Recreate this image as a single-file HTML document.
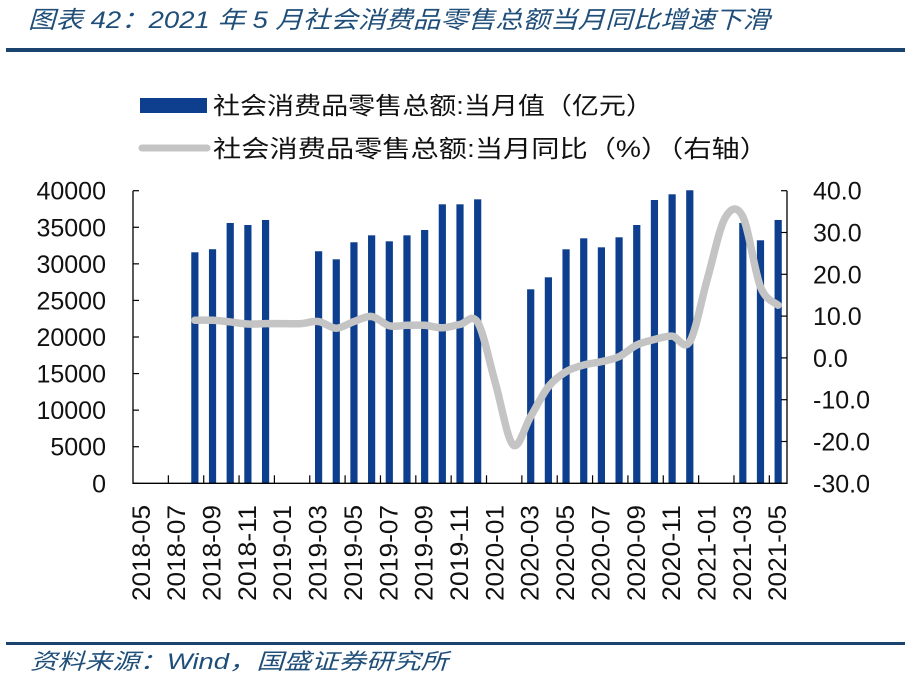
<!DOCTYPE html>
<html><head><meta charset="utf-8">
<style>
html,body{margin:0;padding:0;background:#fff;}
svg{display:block;}
</style></head>
<body>
<svg id="chart" width="905" height="680" viewBox="0 0 905 680" xmlns="http://www.w3.org/2000/svg">
  <text x="28" y="28" font-family="'Liberation Sans','Noto Sans CJK SC',sans-serif" font-size="24" font-style="italic" fill="#1f4e79" textLength="742" lengthAdjust="spacingAndGlyphs">图表 42：2021 年 5 月社会消费品零售总额当月同比增速下滑</text>
  <rect x="6" y="48" width="899" height="4" fill="#1a446e"/>
  <g>
    <rect x="140" y="98" width="67" height="15" fill="#0d3f8e"/>
    <text x="213" y="114" font-family="'Liberation Sans','Noto Sans CJK SC',sans-serif" font-size="24" fill="#111" textLength="440" lengthAdjust="spacingAndGlyphs">社会消费品零售总额:当月值（亿元）</text>
    <line x1="142" y1="148" x2="207" y2="148" stroke="#c4c4c4" stroke-width="7" stroke-linecap="round"/>
    <text x="213" y="157" font-family="'Liberation Sans','Noto Sans CJK SC',sans-serif" font-size="24" fill="#111" textLength="555" lengthAdjust="spacingAndGlyphs">社会消费品零售总额:当月同比（%）（右轴）</text>
  </g>
  <g id="plot"></g>
  <rect x="6" y="642" width="899" height="3" fill="#1a446e"/>
  <text x="30" y="669" font-family="'Liberation Sans','Noto Sans CJK SC',sans-serif" font-size="22" font-style="italic" fill="#1f4e79" textLength="418" lengthAdjust="spacingAndGlyphs">资料来源：Wind，国盛证券研究所</text>
</svg>
<script>
const months = ["2018-05","2018-06","2018-07","2018-08","2018-09","2018-10","2018-11","2018-12","2019-01","2019-02","2019-03","2019-04","2019-05","2019-06","2019-07","2019-08","2019-09","2019-10","2019-11","2019-12","2020-01","2020-02","2020-03","2020-04","2020-05","2020-06","2020-07","2020-08","2020-09","2020-10","2020-11","2020-12","2021-01","2021-02","2021-03","2021-04","2021-05"];
const salesValues = [null,null,null,31580,32000,35590,35310,36000,null,null,31720,30620,32950,33900,33080,33900,34630,38140,38140,38820,null,null,26520,28160,31990,33490,32260,33630,35310,38730,39510,40060,null,null,35590,33220,36000];
const yoyValues = [null,null,null,9.0,9.0,8.6,8.1,8.2,8.2,8.2,8.7,7.1,8.7,9.9,7.7,7.8,7.8,7.2,8.0,8.5,-6.0,-20.8,-14.0,-6.9,-3.3,-1.7,-0.9,0.3,3.1,4.4,5.2,3.9,19.0,33.5,33.8,17.0,12.6];
const leftTicks = [0,5000,10000,15000,20000,25000,30000,35000,40000];
const rightTicks = [-30,-20,-10,0,10,20,30,40];
const rightTickLabels = ["-30.0","-20.0","-10.0","0.0","10.0","20.0","30.0","40.0"];

const NS = "http://www.w3.org/2000/svg";
const X0 = 133, X1 = 787, Y0 = 483.3, Y1 = 190.7;
const step = (X1 - X0) / months.length;
const xC = i => X0 + step * (i + 0.5);
const yL = v => Y0 - (v / 40000) * (Y0 - Y1);
const yR = v => Y0 - ((v + 30) / 70) * (Y0 - Y1);
const plot = document.getElementById("plot");
function mk(tag, attrs) { const e = document.createElementNS(NS, tag); for (const k in attrs) e.setAttribute(k, attrs[k]); plot.appendChild(e); return e; }
const FONT = "'Liberation Sans',sans-serif";

salesValues.forEach((v, i) => {
  if (v === null) return;
  const r = mk("rect", {x: xC(i) - 3.6, y: yL(v), width: 7.2, height: Y0 - yL(v), fill: "#0d3f8e"});
  
  
});

const pts = [];
yoyValues.forEach((v, i) => { if (v !== null) pts.push([xC(i), yR(v)]); });
let d = "M" + pts[0][0] + "," + pts[0][1];
for (let i = 0; i < pts.length - 1; i++) {
  const p0 = pts[i - 1] || pts[i], p1 = pts[i], p2 = pts[i + 1], p3 = pts[i + 2] || p2;
  const c1x = p1[0] + (p2[0] - p0[0]) / 6, c1y = p1[1] + (p2[1] - p0[1]) / 6;
  const c2x = p2[0] - (p3[0] - p1[0]) / 6, c2y = p2[1] - (p3[1] - p1[1]) / 6;
  d += " C" + c1x + "," + c1y + " " + c2x + "," + c2y + " " + p2[0] + "," + p2[1];
}
const line = mk("path", {d: d, fill: "none", stroke: "#c4c4c4", "stroke-width": 7.5, "stroke-linejoin": "round", "stroke-linecap": "round"});



const ax = mk("path", {d: `M${X0},${Y1} V${Y0} H${X1} V${Y1}`, fill: "none", stroke: "#000", "stroke-width": 1.3});



leftTicks.forEach(v => {
  const y = yL(v);
  const t = mk("line", {x1: X0, x2: X0 + 6, y1: y, y2: y, stroke: "#000", "stroke-width": 1.2});
  
  
  const l = mk("text", {x: 106, y: y + 9, "text-anchor": "end", "font-family": FONT, "font-size": 25, fill: "#111"});
  l.textContent = String(v);
  
  
});
rightTicks.forEach((v, k) => {
  const y = yR(v);
  const t = mk("line", {x1: X1 - 6, x2: X1, y1: y, y2: y, stroke: "#000", "stroke-width": 1.2});
  
  
  const l = mk("text", {x: 813, y: y + 9, "text-anchor": "start", "font-family": FONT, "font-size": 25, fill: "#111"});
  l.textContent = rightTickLabels[k];
  
  
});
months.forEach((m, i) => {
  if (i % 2 === 0 && i > 0) {
    const bx = X0 + step * i;
    const t = mk("line", {x1: bx, x2: bx, y1: Y0, y2: Y0 - 8, stroke: "#000", "stroke-width": 1.2});
    
    
  }
  if (i % 2 === 0) {
    const x = xC(i) + 8, y = 505;
    const l = mk("text", {x: x, y: y, transform: `rotate(-90 ${x} ${y})`, "text-anchor": "end", "font-family": FONT, "font-size": 25, fill: "#111", textLength: 96, lengthAdjust: "spacingAndGlyphs"});
    l.textContent = m;
    
    
  }
});
</script>
</body></html>
